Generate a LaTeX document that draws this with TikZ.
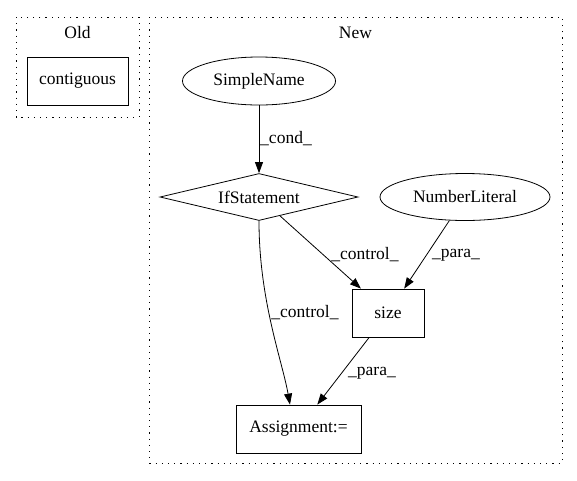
\documentclass[tikz,border=0pt]{standalone}
\usepackage{fontspec}
\setmainfont{Liberation Serif}
\usetikzlibrary{shapes.geometric,arrows.meta,positioning}
\newcommand{\lbltext}[1]{\_#1\_}

\begin{document}
\begin{tikzpicture}[x=1pt,y=-1pt,
    every node/.style={font=\fontsize{17.5}{20}\selectfont},
    box/.style={draw,thick,rectangle,inner sep=0pt},
    oval/.style={draw,thick,ellipse,inner sep=0pt},
    cond/.style={draw,thick,diamond,inner sep=0pt,aspect=4},
    cluster/.style={draw,thick,dash pattern=on 1.2pt off 5pt},
    edge/.style={thick,-{Triangle[length=11pt,width=8pt]}},
    lbl/.style={inner sep=0pt}]
	  \useasboundingbox (0,0) rectangle (577,480);
    % clusters
    \draw[cluster] (16,17) rectangle (139,117);
    \node[lbl] (oldlbl) at (77.5,33) {Old};
    \draw[cluster] (149,17) rectangle (562,463);
    \node[lbl] (newlbl) at (355.5,33) {New};
    % nodes
    \node[box,minimum width=101pt,minimum height=48pt] (contig) at (77.5,81) {contiguous};
    \node[oval,minimum width=153pt,minimum height=48pt] (simple) at (259,81) {SimpleName};
    \node[cond,minimum width=198pt,minimum height=47pt] (ifst) at (259,197) {IfStatement};
    \node[oval,minimum width=170pt,minimum height=47pt] (numlit) at (465,197) {NumberLiteral};
    \node[box,minimum width=72pt,minimum height=48pt] (size) at (388,313) {size};
    \node[box,minimum width=125pt,minimum height=48pt] (asg) at (298.5,429) {Assignment:=};
    % edges
    \draw[edge] (simple) -- (ifst); \node[lbl] (lcond) at (286,139) {\lbltext{cond}};
    \draw[edge] (ifst) -- (size); \node[lbl] (lctrl) at (365,255) {\lbltext{control}};
    \draw[edge] (numlit) -- (size); \node[lbl] (lpara) at (456,255) {\lbltext{para}};
    \draw[edge] (ifst.south) .. controls (259,300) and (282,360) .. ([xshift=-8.5pt]asg.north);
		\node[lbl] (lctrlb) at (305,313) {\lbltext{control}};
    \draw[edge] (size) -- (asg); \node[lbl] (lparab) at (372,373) {\lbltext{para}};
\end{tikzpicture}
\end{document}
